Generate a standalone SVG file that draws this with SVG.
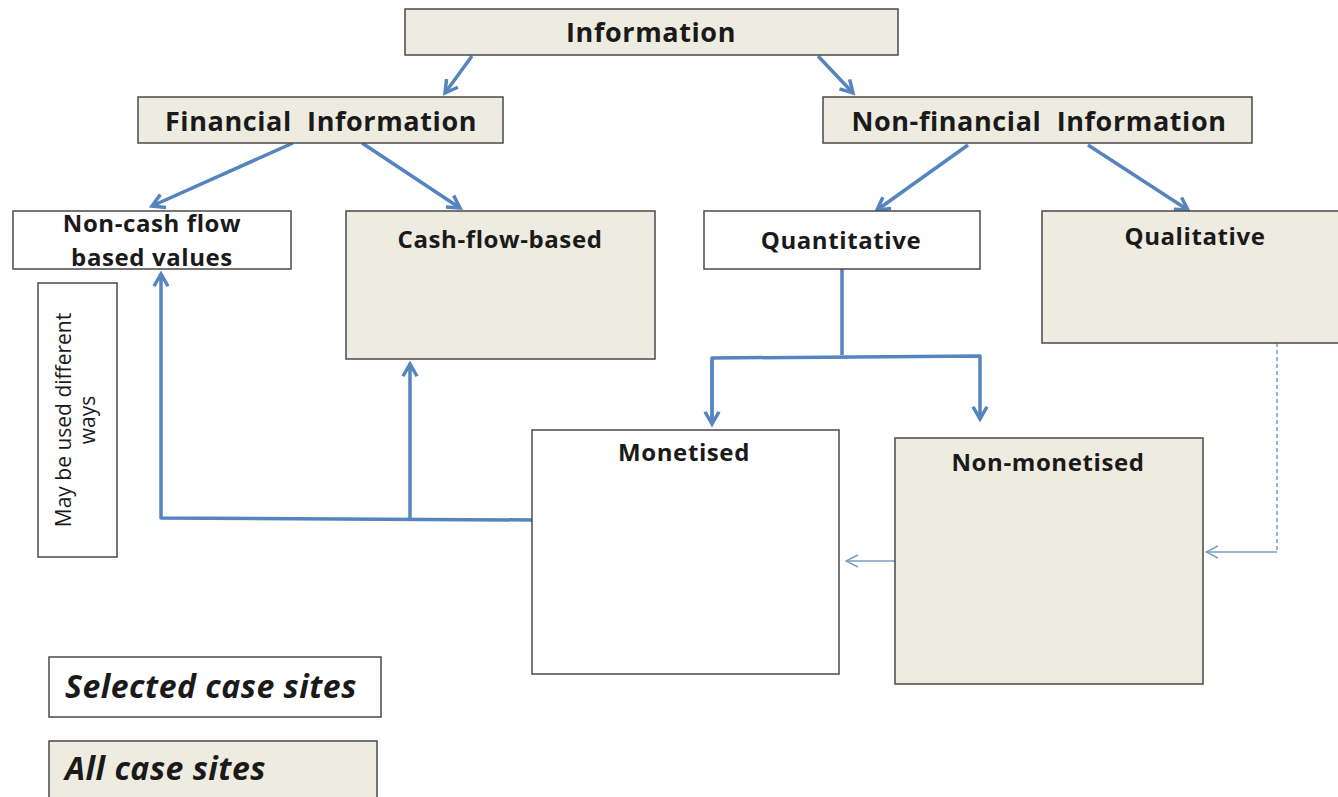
<svg xmlns="http://www.w3.org/2000/svg" width="1338" height="797" viewBox="0 0 1338 797">
<style>
.b{stroke:#4a4a4a;stroke-width:1.5}
.w{fill:#ffffff}
.g{fill:#eeebe0}
.t{font-family:"Open Sans","DejaVu Sans",sans-serif;font-weight:bold;font-size:24px;letter-spacing:0.6px;fill:#1a1a1a;text-anchor:middle;white-space:pre}
.big{font-size:27px}
.r{font-family:"Open Sans","DejaVu Sans",sans-serif;font-size:21px;fill:#1a1a1a;text-anchor:middle}
.i{font-family:"Open Sans","DejaVu Sans",sans-serif;font-weight:bold;font-style:italic;font-size:32px;letter-spacing:0.5px;fill:#1a1a1a}
.c{fill:none;stroke:#5584bf;stroke-width:3.5;stroke-linejoin:round}
.thin{fill:none;stroke:#7d9dc4;stroke-width:1.5}
</style>
<defs>
<marker id="ah" viewBox="0 0 10 10" refX="8" refY="5" markerWidth="5" markerHeight="5" orient="auto" markerUnits="strokeWidth">
<path d="M1,1 L8,5 L1,9" fill="none" stroke="#5584bf" stroke-width="2"/>
</marker>
<marker id="ah2" viewBox="0 0 10 10" refX="9" refY="5" markerWidth="10" markerHeight="10" orient="auto" markerUnits="strokeWidth">
<path d="M1,1 L9,5 L1,9" fill="none" stroke="#7d9dc4" stroke-width="1"/>
</marker>
</defs>
<rect width="1338" height="797" fill="#ffffff"/>
<g id="connectors">
<line class="c" x1="472" y1="56" x2="445" y2="93" marker-end="url(#ah)"/>
<line class="c" x1="818" y1="56" x2="853" y2="93" marker-end="url(#ah)"/>
<line class="c" x1="293" y1="143" x2="152" y2="206" marker-end="url(#ah)"/>
<line class="c" x1="362" y1="143" x2="460" y2="208" marker-end="url(#ah)"/>
<line class="c" x1="968" y1="145" x2="877" y2="210" marker-end="url(#ah)"/>
<line class="c" x1="1088" y1="145" x2="1188" y2="210" marker-end="url(#ah)"/>
<polyline class="c" points="842,269 842,355"/>
<polyline class="c" points="712,424 712,358 980,356 980,419" marker-end="url(#ah)"/>
<line class="c" x1="712" y1="360" x2="712" y2="424" marker-end="url(#ah)"/>
<polyline class="c" points="532,520 161,518 161,274" marker-end="url(#ah)"/>
<line class="c" x1="410" y1="519" x2="410" y2="364" marker-end="url(#ah)"/>
<line class="thin" x1="895" y1="561" x2="846" y2="561" marker-end="url(#ah2)"/>
<polyline class="thin" points="1277,343 1277,553" stroke-dasharray="4,3"/>
<line class="thin" x1="1277" y1="552" x2="1206" y2="552" marker-end="url(#ah2)"/>
</g>
<g id="information"><rect class="b g" x="405" y="9" width="493" height="46"/><text class="t big" x="651" y="42">Information</text></g>
<g id="financial"><rect class="b g" x="138" y="97" width="365" height="46"/><text class="t big" x="321" y="131" xml:space="preserve">Financial  Information</text></g>
<g id="nonfinancial"><rect class="b g" x="823" y="97" width="429" height="46"/><text class="t big" x="1039" y="131" xml:space="preserve">Non-financial  Information</text></g>
<g id="noncash"><rect class="b w" x="13" y="211" width="278" height="58"/><text class="t" x="152" y="232">Non-cash flow</text><text class="t" x="152" y="266">based values</text></g>
<g id="cashflow"><rect class="b g" x="346" y="211" width="309" height="148"/><text class="t" x="500" y="248">Cash-flow-based</text></g>
<g id="quantitative"><rect class="b w" x="704" y="211" width="276" height="58"/><text class="t" x="841" y="249">Quantitative</text></g>
<g id="qualitative"><rect class="b g" x="1042" y="211" width="300" height="132"/><text class="t" x="1195" y="245">Qualitative</text></g>
<g id="mayused"><rect class="b w" x="38" y="283" width="79" height="274"/><text class="r" transform="translate(71,420) rotate(-90)">May be used different</text><text class="r" transform="translate(95,420) rotate(-90)">ways</text></g>
<g id="monetised"><rect class="b w" x="532" y="430" width="307" height="244"/><text class="t" x="684" y="461">Monetised</text></g>
<g id="nonmonetised"><rect class="b g" x="895" y="438" width="308" height="246"/><text class="t" x="1048" y="471">Non-monetised</text></g>
<g id="selected"><rect class="b w" x="49" y="657" width="332" height="60"/><text class="i" x="65" y="698">Selected case sites</text></g>
<g id="allcases"><rect class="b g" x="49" y="741" width="328" height="60"/><text class="i" x="65" y="780">All case sites</text></g>
</svg>
